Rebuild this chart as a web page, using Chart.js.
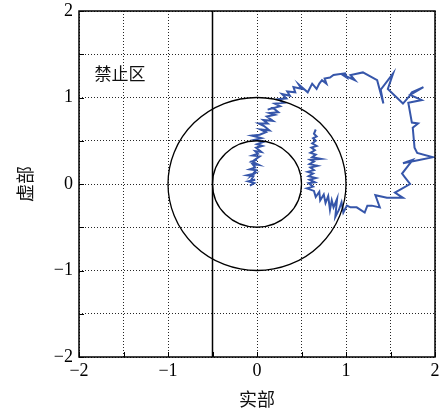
<!DOCTYPE html>
<html>
<head>
<meta charset="utf-8">
<script src="https://cdn.jsdelivr.net/npm/chart.js@4/dist/chart.umd.min.js"></script>
<style>
  html, body { margin: 0; padding: 0; background: #fff; }
  canvas { display: block; }
</style>
</head>
<body>
<canvas id="c" width="441" height="409"></canvas>
<script>
// Trajectory in the complex plane: real part and imaginary part
const realPart = [
  // rising stem near the origin
  -0.08, -0.03, -0.10, -0.02, -0.07, -0.04, -0.11, -0.03, -0.06, -0.01,
  -0.08, -0.02, -0.05, 0.02, -0.06, 0.00, -0.04, 0.03, -0.05, 0.01,
  -0.02, 0.05, -0.01, 0.06, 0.00, 0.08, -0.03, 0.05, -0.06, 0.03,
  // climb towards the upper arc
  0.10, 0.04, 0.14, 0.08, 0.02, 0.12, 0.07, 0.18, 0.11, 0.20,
  0.14, 0.24, 0.18, 0.12, 0.26, 0.20, 0.30, 0.24, 0.33, 0.28,
  0.37, 0.34, 0.43, 0.41, 0.50, 0.47, 0.57, 0.62, 0.67, 0.70,
  0.73, 0.78, 0.76, 0.82, 0.86,
  // upper arc and right side
  0.99, 1.01, 0.95, 1.10, 1.05, 1.19, 1.35, 1.42, 1.39, 1.53,
  1.47, 1.64, 1.70, 1.74, 1.87, 1.72, 1.85, 1.70, 1.74, 1.81,
  1.75, 1.77, 1.80, 1.98, 1.78, 1.64, 1.75, 1.63, 1.66, 1.72,
  1.55, 1.64, 1.46, 1.33, 1.38, 1.29, 1.24, 1.21, 1.12, 1.05,
  // lower cluster
  1.01, 0.97, 0.95, 0.92, 0.88, 0.90, 0.86, 0.84, 0.82, 0.80,
  0.77, 0.75, 0.71, 0.70, 0.66, 0.64,
  // inner stem
  0.56, 0.63, 0.58, 0.65, 0.59, 0.66, 0.58, 0.63, 0.57, 0.64,
  0.60, 0.68, 0.59, 0.64, 0.60, 0.72, 0.62, 0.66, 0.60, 0.65,
  0.61, 0.67, 0.62, 0.66, 0.63, 0.67, 0.64, 0.66
];
const imagPart = [
  -0.02, 0.01, 0.03, 0.05, 0.04, 0.09, 0.10, 0.12, 0.10, 0.16,
  0.17, 0.19, 0.23, 0.22, 0.26, 0.28, 0.27, 0.32, 0.33, 0.35,
  0.38, 0.37, 0.42, 0.44, 0.46, 0.49, 0.51, 0.53, 0.56, 0.57,
  0.60, 0.63, 0.62, 0.67, 0.70, 0.70, 0.74, 0.73, 0.78, 0.80,
  0.82, 0.83, 0.88, 0.86, 0.90, 0.93, 0.94, 0.98, 0.99, 1.04,
  1.02, 1.07, 1.06, 1.12, 1.10, 1.15, 1.06, 1.16, 1.10, 1.16,
  1.20, 1.16, 1.22, 1.23, 1.26,
  1.28, 1.23, 1.27, 1.20, 1.26, 1.29, 1.20, 0.93, 1.09, 1.28,
  1.10, 0.93, 1.00, 1.06, 1.12, 1.03, 0.97, 0.94, 0.71, 0.70,
  0.65, 0.42, 0.36, 0.31, 0.27, 0.24, 0.28, 0.12, 0.08, 0.00,
  -0.10, -0.16, -0.16, -0.13, -0.27, -0.25, -0.25, -0.33, -0.27, -0.27,
  -0.25, -0.33, -0.21, -0.30, -0.38, -0.17, -0.27, -0.19, -0.30, -0.14,
  -0.22, -0.12, -0.19, -0.09, -0.15, -0.08,
  -0.05, -0.03, 0.01, 0.02, 0.05, 0.07, 0.09, 0.12, 0.14, 0.16,
  0.19, 0.21, 0.23, 0.26, 0.28, 0.29, 0.31, 0.34, 0.36, 0.39,
  0.42, 0.44, 0.47, 0.50, 0.53, 0.55, 0.58, 0.63
];

// Reference circles (radii) and the forbidden-zone boundary Re = -0.5
const circleRadii = [0.5, 1.0];
const boundaryRe = -0.5;
const zoneLabel = '禁止区';
const zoneLabelAt = [-1.54, 1.28];

// Axis range and tick labels
const axisMin = -2, axisMax = 2, gridStep = 0.5;
const tickLabels = { '-2': '−2', '-1': '−1', '0': '0', '1': '1', '2': '2' };
const xTitle = '实部';
const yTitle = '虚部';

const pathPoints = realPart.map((re, i) => ({ x: re, y: imagPart[i] }));
const boundaryPoints = [{ x: boundaryRe, y: axisMin }, { x: boundaryRe, y: axisMax }];

const tickFont = { family: 'Liberation Serif', size: 18 };
const cjkFont = 'Noto Sans CJK SC';

function tickCallback(v) {
  const key = String(Math.round(v * 100) / 100);
  return tickLabels[key] !== undefined ? tickLabels[key] : '';
}

const decorations = {
  id: 'decorations',
  afterDatasetsDraw(chart) {
    const { ctx, chartArea: a, scales: { x, y } } = chart;
    ctx.save();
    ctx.beginPath();
    ctx.rect(a.left, a.top, a.right - a.left, a.bottom - a.top);
    ctx.clip();
    // circles centred at the origin
    const cx = x.getPixelForValue(0), cy = y.getPixelForValue(0);
    ctx.strokeStyle = '#000';
    ctx.lineWidth = 1.3;
    ctx.setLineDash([]);
    circleRadii.forEach(r => {
      const rx = Math.abs(x.getPixelForValue(r) - cx);
      const ry = Math.abs(y.getPixelForValue(r) - cy);
      ctx.beginPath();
      ctx.ellipse(cx, cy, rx, ry, 0, 0, Math.PI * 2);
      ctx.stroke();
    });
    ctx.restore();

    ctx.save();
    // zone label
    ctx.fillStyle = '#111';
    ctx.font = '17px "' + cjkFont + '"';
    ctx.textAlign = 'center';
    ctx.textBaseline = 'middle';
    ctx.fillText(zoneLabel, x.getPixelForValue(zoneLabelAt[0]), y.getPixelForValue(zoneLabelAt[1]));

    // inward tick marks on the left and bottom axes
    ctx.strokeStyle = '#000';
    ctx.lineWidth = 1;
    ctx.beginPath();
    for (let v = axisMin; v <= axisMax + 1e-9; v += gridStep) {
      const px = Math.round(x.getPixelForValue(v)) + 0.5;
      ctx.moveTo(px, a.bottom);
      ctx.lineTo(px, a.bottom - 5);
      const py = Math.round(y.getPixelForValue(v)) + 0.5;
      ctx.moveTo(a.left, py);
      ctx.lineTo(a.left + 5, py);
    }
    ctx.stroke();

    // frame
    ctx.lineWidth = 1.5;
    ctx.strokeRect(a.left, a.top, a.right - a.left, a.bottom - a.top);
    ctx.restore();
  }
};

const gridOpts = { color: 'rgba(0,0,0,0.85)', lineWidth: 1, drawTicks: false };
const borderOpts = { display: false, dash: [1, 2] };

new Chart(document.getElementById('c'), {
  type: 'scatter',
  data: {
    datasets: [
      {
        data: pathPoints,
        showLine: true,
        borderColor: '#3656aa',
        borderWidth: 2,
        pointRadius: 0,
        tension: 0,
        fill: false
      },
      {
        data: boundaryPoints,
        showLine: true,
        borderColor: '#000',
        borderWidth: 1.5,
        pointRadius: 0,
        fill: false
      }
    ]
  },
  options: {
    responsive: false,
    animation: false,
    layout: { padding: { top: 11, right: 6, left: 0, bottom: 0 } },
    plugins: { legend: { display: false }, tooltip: { enabled: false } },
    scales: {
      x: {
        type: 'linear', min: axisMin, max: axisMax,
        ticks: { stepSize: gridStep, callback: tickCallback, font: tickFont, color: '#000', padding: 3, autoSkip: false, maxRotation: 0 },
        grid: gridOpts,
        border: borderOpts,
        title: { display: true, text: xTitle, font: { family: cjkFont, size: 18, lineHeight: 1.1 }, color: '#111', padding: { top: 0, bottom: 0 } },
        afterFit(s) { s.height = 52; s.paddingLeft = 0; s.paddingRight = 0; }
      },
      y: {
        type: 'linear', min: axisMin, max: axisMax,
        ticks: { stepSize: gridStep, callback: tickCallback, font: tickFont, color: '#000', padding: 6, autoSkip: false },
        grid: gridOpts,
        border: borderOpts,
        title: { display: true, text: yTitle, font: { family: cjkFont, size: 18, lineHeight: 1.1 }, color: '#111', padding: { top: 15, bottom: 0 } },
        afterFit(s) { s.width = 79; s.paddingTop = 0; s.paddingBottom = 0; }
      }
    }
  },
  plugins: [decorations]
});
</script>
</body>
</html>
